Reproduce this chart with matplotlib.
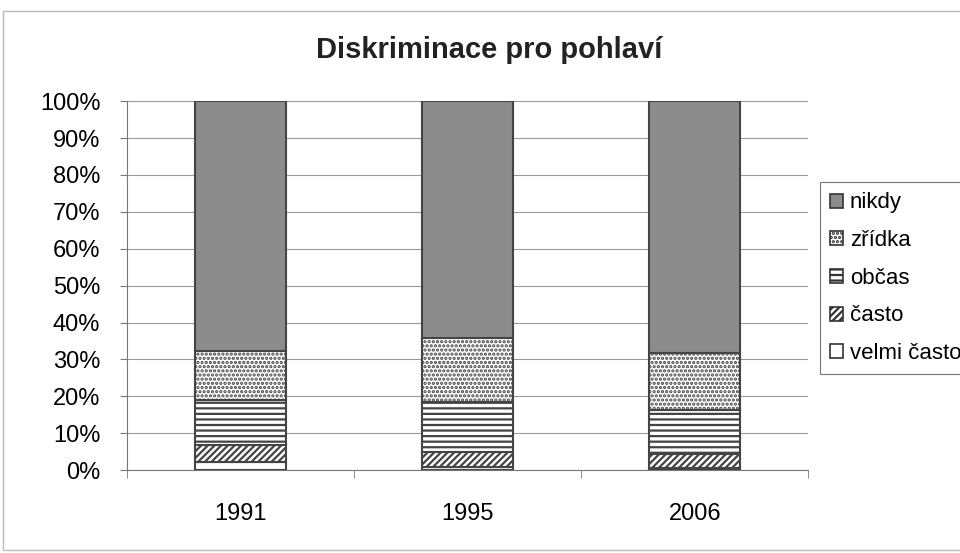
import matplotlib.pyplot as plt
from matplotlib.patches import Rectangle
from matplotlib.ticker import FixedLocator, PercentFormatter

plt.rcParams['font.family'] = ['Liberation Sans', 'DejaVu Sans']
plt.rcParams['hatch.linewidth'] = 1.6

years = ["1991", "1995", "2006"]
categories = ["velmi často", "často", "občas", "zřídka", "nikdy"]
velmi_casto = [2.2, 0.8, 0.5]
casto = [4.5, 4.1, 3.8]
obcas = [12.4, 13.5, 12.0]
zridka = [13.1, 17.4, 15.4]
nikdy = [67.8, 64.2, 68.3]
series = [velmi_casto, casto, obcas, zridka, nikdy]

styles = [
    dict(facecolor="white", hatch=None),
    dict(facecolor="white", hatch="/////"),
    dict(facecolor="white", hatch="---"),
    dict(facecolor="white", hatch="...."),
    dict(facecolor="#8c8c8c", hatch=None),
]

fig = plt.figure(figsize=(9.6, 5.53), dpi=100)
fig.patches.append(Rectangle((0.003, 0.005), 1.0, 0.975, transform=fig.transFigure,
                             fill=False, edgecolor="#bbbbbb", linewidth=1))
ax = fig.add_axes([0.132, 0.15, 0.710, 0.667])

x = range(len(years))
bottom = [0, 0, 0]
for vals, st in zip(series, styles):
    ax.bar(x, vals, width=0.4, bottom=bottom, facecolor=st["facecolor"], hatch=st["hatch"],
           edgecolor="#444444", linewidth=1.5, zorder=3)
    bottom = [b + v for b, v in zip(bottom, vals)]

ax.set_xlim(-0.5, 2.5)
ax.set_ylim(0, 100)
ax.set_xticks(list(x))
ax.set_xticklabels(years, fontsize=17)
ax.xaxis.set_minor_locator(FixedLocator([-0.5, 0.5, 1.5, 2.5]))
ax.tick_params(axis="x", which="major", length=0, pad=24)
ax.tick_params(axis="x", which="minor", length=6, color="#777777")
ax.set_yticks(range(0, 101, 10))
ax.yaxis.set_major_formatter(PercentFormatter(decimals=0))
ax.tick_params(axis="y", labelsize=17, length=5, color="#777777", pad=14)
ax.grid(axis="y", color="#999999", linewidth=0.8, zorder=0)
for s in ["top", "right"]:
    ax.spines[s].set_visible(False)
for s in ["left", "bottom"]:
    ax.spines[s].set_color("#777777")

fig.text(0.51, 0.895, "Diskriminace pro pohlaví", ha="center", fontsize=21, fontweight="bold",
         color="#222222")

handles = [Rectangle((0, 0), 1, 1, facecolor=st["facecolor"], hatch=st["hatch"],
                     edgecolor="#333333", linewidth=1.2) for st in styles]
leg = fig.legend(handles[::-1], categories[::-1], loc="upper left",
                 bbox_to_anchor=(0.854, 0.67), fontsize=16, frameon=True, fancybox=False,
                 handlelength=0.6, handleheight=0.6, handletextpad=0.3, labelspacing=0.75,
                 borderpad=0.45, borderaxespad=0)
leg.get_frame().set_edgecolor("#555555")
leg.get_frame().set_linewidth(0.8)

plt.savefig("out.png", dpi=100)
